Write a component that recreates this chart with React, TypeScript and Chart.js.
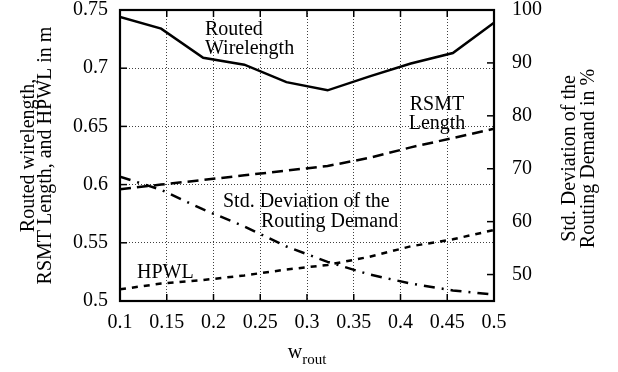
import React, { useEffect, useRef } from "react";
import { Chart, registerables } from "chart.js";

Chart.register(...registerables);

// ---- data ----
const wrout = [0.1, 0.144, 0.189, 0.233, 0.278, 0.322, 0.367, 0.411, 0.456, 0.5];
const routedWirelength = [0.744, 0.734, 0.709, 0.703, 0.688, 0.681, 0.693, 0.704, 0.713, 0.739];
const rsmtLength = [0.596, 0.6, 0.604, 0.608, 0.612, 0.616, 0.623, 0.632, 0.64, 0.648];
const hpwl = [0.51, 0.515, 0.518, 0.522, 0.527, 0.531, 0.538, 0.547, 0.553, 0.561];
const stdDevRoutingDemand = [68.5, 66.0, 62.3, 59.1, 55.3, 52.4, 50.0, 48.3, 47.0, 46.2];

const xTicks = [0.1, 0.15, 0.2, 0.25, 0.3, 0.35, 0.4, 0.45, 0.5];
const xTickLabels = ["0.1", "0.15", "0.2", "0.25", "0.3", "0.35", "0.4", "0.45", "0.5"];
const yTicks = [0.5, 0.55, 0.6, 0.65, 0.7, 0.75];
const yTickLabels = ["0.5", "0.55", "0.6", "0.65", "0.7", "0.75"];
const y2Ticks = [50, 60, 70, 80, 90, 100];
const y2TickLabels = ["50", "60", "70", "80", "90", "100"];

const leftTitle = ["Routed wirelength,", "RSMT Length, and HPWL in m"];
const rightTitle = ["Std. Deviation of the", "Routing Demand in %"];

const FONT = "'Liberation Serif', 'Times New Roman', serif";

const toPts = (ys: number[]) => wrout.map((x, i) => ({ x, y: ys[i] }));

const decorPlugin = {
  id: "decor",
  afterDraw(chart: any) {
    const { ctx, chartArea: a, scales } = chart;
    ctx.save();
    ctx.strokeStyle = "#000";
    ctx.fillStyle = "#000";
    const seg = (x1: number, y1: number, x2: number, y2: number) => {
      ctx.beginPath();
      ctx.moveTo(x1, y1);
      ctx.lineTo(x2, y2);
      ctx.stroke();
    };
    ctx.lineWidth = 1.5;
    const tl = 7;
    xTicks.forEach((v) => {
      const px = scales.x.getPixelForValue(v);
      seg(px, a.bottom, px, a.bottom - tl);
      seg(px, a.top, px, a.top + tl);
    });
    yTicks.forEach((v) => {
      const py = scales.y.getPixelForValue(v);
      seg(a.left, py, a.left + tl, py);
    });
    y2Ticks.forEach((v) => {
      const py = scales.y2.getPixelForValue(v);
      seg(a.right, py, a.right - tl, py);
    });
    ctx.lineWidth = 2.2;
    ctx.strokeRect(a.left, a.top, a.right - a.left, a.bottom - a.top);

    // in-plot labels
    ctx.font = `20px ${FONT}`;
    ctx.textBaseline = "alphabetic";
    ctx.textAlign = "left";
    ctx.fillText("Routed", 205, 35);
    ctx.fillText("Wirelength", 205, 54);
    ctx.textAlign = "center";
    ctx.fillText("RSMT", 437, 110);
    ctx.fillText("Length", 437, 129);
    ctx.textAlign = "left";
    ctx.fillText("Std. Deviation of the", 223, 207);
    ctx.fillText("Routing Demand", 261, 227);
    ctx.fillText("HPWL", 137, 278);

    // x-axis title with subscript
    ctx.textAlign = "left";
    ctx.font = `20px ${FONT}`;
    const wW = ctx.measureText("w").width;
    ctx.font = `15px ${FONT}`;
    const subW = ctx.measureText("rout").width;
    const cx = (a.left + a.right) / 2;
    const startX = cx - (wW + subW) / 2;
    ctx.font = `20px ${FONT}`;
    ctx.fillText("w", startX, 358);
    ctx.font = `15px ${FONT}`;
    ctx.fillText("rout", startX + wW, 364);

    // rotated axis titles
    ctx.font = `20px ${FONT}`;
    ctx.textAlign = "center";
    ctx.textBaseline = "alphabetic";
    const cy = (a.top + a.bottom) / 2;
    const drawRot = (text: string, x: number, y: number) => {
      ctx.save();
      ctx.translate(x, y);
      ctx.rotate(-Math.PI / 2);
      ctx.fillText(text, 0, 0);
      ctx.restore();
    };
    drawRot(leftTitle[0], 34, cy);
    drawRot(leftTitle[1], 51, cy);
    drawRot(rightTitle[0], 575, cy + 3);
    drawRot(rightTitle[1], 594, cy + 3);
    ctx.restore();
  },
};

export default function App() {
  const ref = useRef<HTMLCanvasElement | null>(null);
  useEffect(() => {
    if (!ref.current) return;
    const gridColor = "rgba(0,0,0,0.75)";
    const chart = new Chart(ref.current, {
      type: "line",
      data: {
        datasets: [
          {
            label: "Routed Wirelength",
            data: toPts(routedWirelength),
            yAxisID: "y",
            borderColor: "#000",
            borderWidth: 2.5,
            pointRadius: 0,
            tension: 0,
          },
          {
            label: "RSMT Length",
            data: toPts(rsmtLength),
            yAxisID: "y",
            borderColor: "#000",
            borderWidth: 2.5,
            borderDash: [11, 6],
            pointRadius: 0,
            tension: 0,
          },
          {
            label: "HPWL",
            data: toPts(hpwl),
            yAxisID: "y",
            borderColor: "#000",
            borderWidth: 2.5,
            borderDash: [6, 6],
            pointRadius: 0,
            tension: 0,
          },
          {
            label: "Std. Deviation of the Routing Demand",
            data: toPts(stdDevRoutingDemand),
            yAxisID: "y2",
            borderColor: "#000",
            borderWidth: 2.5,
            borderDash: [11, 7, 2, 7],
            pointRadius: 0,
            tension: 0,
          },
        ],
      },
      options: {
        animation: false,
        responsive: false,
        maintainAspectRatio: false,
        layout: { padding: { top: 10, left: 0, right: 0, bottom: 0 } },
        plugins: {
          legend: { display: false },
          tooltip: { enabled: false },
          title: { display: false },
        },
        scales: {
          x: {
            type: "linear",
            min: 0.1,
            max: 0.5,
            afterBuildTicks: (s: any) => {
              s.ticks = xTicks.map((v) => ({ value: v }));
            },
            afterFit: (s: any) => {
              s.height = 71;
              s.paddingLeft = 0;
              s.paddingRight = 0;
            },
            ticks: {
              autoSkip: false,
              maxRotation: 0,
              padding: 10,
              color: "#000",
              font: { family: FONT, size: 20, lineHeight: 1.2 },
              callback: (_v: any, i: number) => xTickLabels[i],
            },
            grid: { drawTicks: false, color: gridColor, lineWidth: 1 },
            border: { display: false, dash: [1, 2] },
          },
          y: {
            type: "linear",
            position: "left",
            min: 0.5,
            max: 0.75,
            afterBuildTicks: (s: any) => {
              s.ticks = yTicks.map((v) => ({ value: v }));
            },
            afterFit: (s: any) => {
              s.width = 120;
              s.paddingTop = 0;
              s.paddingBottom = 0;
            },
            ticks: {
              padding: 12,
              color: "#000",
              font: { family: FONT, size: 20, lineHeight: 1 },
              callback: (_v: any, i: number) => yTickLabels[i],
            },
            grid: { drawTicks: false, color: gridColor, lineWidth: 1 },
            border: { display: false, dash: [1, 2] },
          },
          y2: {
            type: "linear",
            position: "right",
            min: 45,
            max: 100,
            afterBuildTicks: (s: any) => {
              s.ticks = y2Ticks.map((v) => ({ value: v }));
            },
            afterFit: (s: any) => {
              s.width = 124;
              s.paddingTop = 0;
              s.paddingBottom = 0;
            },
            ticks: {
              padding: 18,
              color: "#000",
              font: { family: FONT, size: 20, lineHeight: 1 },
              callback: (_v: any, i: number) => y2TickLabels[i],
            },
            grid: { display: false, drawTicks: false },
            border: { display: false },
          },
        },
      },
      plugins: [decorPlugin],
    });
    return () => chart.destroy();
  }, []);
  return (
    <div style={{ position: "absolute", left: 0, top: 0, width: 618, height: 372, background: "#fff" }}>
      <canvas ref={ref} width={618} height={372} style={{ display: "block", width: 618, height: 372 }} />
    </div>
  );
}
